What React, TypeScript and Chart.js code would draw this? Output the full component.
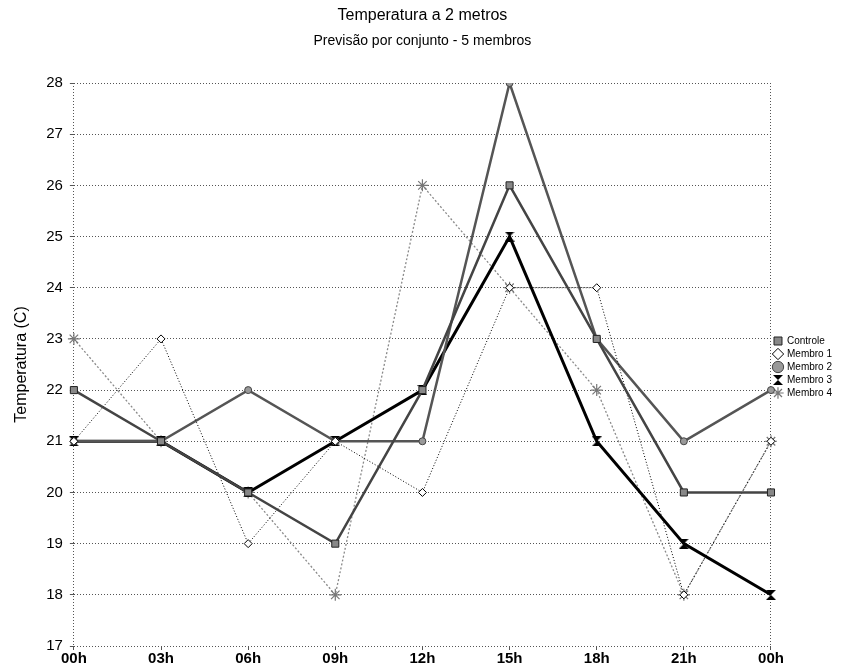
import { useEffect, useRef } from 'react';
import { Chart, registerables } from 'chart.js';

Chart.register(...registerables);

const labels = ['00h', '03h', '06h', '09h', '12h', '15h', '18h', '21h', '00h'];
const controle = [22, 21, 20, 19, 22, 26, 23, 20, 20];
const membro1 = [21, 23, 19, 21, 20, 24, 24, 18, 21];
const membro2 = [21, 21, 22, 21, 21, 28, 23, 21, 22];
const membro3 = [21, 21, 20, 21, 22, 25, 21, 19, 18];
const membro4 = [23, 21, 20, 18, 26, 24, 22, 18, 21];
const yTicks = { min: 17, max: 28, step: 1 };

const FONT = "'Liberation Sans', Arial, sans-serif";

function makeHourglass(): HTMLCanvasElement {
  const c = document.createElement('canvas');
  c.width = 10;
  c.height = 10;
  const g = c.getContext('2d')!;
  g.fillStyle = '#000';
  g.beginPath();
  g.moveTo(0, 0);
  g.lineTo(10, 0);
  g.lineTo(5, 5);
  g.closePath();
  g.fill();
  g.beginPath();
  g.moveTo(0, 10);
  g.lineTo(10, 10);
  g.lineTo(5, 5);
  g.closePath();
  g.fill();
  return c;
}

export default function App() {
  const ref = useRef<HTMLCanvasElement>(null);

  useEffect(() => {
    document.body.style.margin = '0';
    Chart.defaults.font.family = FONT;
    const hourglass = makeHourglass();
    const last = labels.length - 1;
    const chart = new Chart(ref.current!, {
      type: 'line',
      data: {
        labels,
        datasets: [
          {
            label: 'Controle',
            data: controle,
            borderColor: '#444',
            borderWidth: 2.5,
            pointStyle: 'rect',
            pointRadius: 5,
            pointBackgroundColor: '#888',
            pointBorderColor: '#222',
            pointBorderWidth: 1,
            tension: 0,
          },
          {
            label: 'Membro 1',
            data: membro1,
            borderColor: '#000',
            borderWidth: 1,
            borderDash: [1, 2],
            pointStyle: 'rectRot',
            pointRadius: 4,
            pointBackgroundColor: '#fff',
            pointBorderColor: '#000',
            pointBorderWidth: 1,
            tension: 0,
          },
          {
            label: 'Membro 2',
            data: membro2,
            borderColor: '#555',
            borderWidth: 2.5,
            pointStyle: 'circle',
            pointRadius: 3.5,
            pointBackgroundColor: '#999',
            pointBorderColor: '#444',
            pointBorderWidth: 1,
            tension: 0,
          },
          {
            label: 'Membro 3',
            data: membro3,
            borderColor: '#000',
            borderWidth: 3,
            pointStyle: hourglass as any,
            pointRadius: 5,
            pointBackgroundColor: '#000',
            pointBorderColor: '#000',
            tension: 0,
          },
          {
            label: 'Membro 4',
            data: membro4,
            borderColor: '#8a8a8a',
            borderWidth: 1.3,
            borderDash: [2, 2],
            pointStyle: 'star',
            pointRadius: 6,
            pointBackgroundColor: '#fff',
            pointBorderColor: '#777',
            pointBorderWidth: 1.2,
            tension: 0,
          },
        ],
      },
      options: {
        animation: false,
        responsive: false,
        layout: { padding: { left: 12, right: 25, top: 0, bottom: 0 } },
        plugins: {
          title: {
            display: true,
            text: 'Temperatura a 2 metros',
            color: '#000',
            font: { size: 16, weight: 'normal', family: FONT },
            padding: { top: 6, bottom: 8 },
            fullSize: false,
          },
          subtitle: {
            display: true,
            text: 'Previsão por conjunto - 5 membros',
            color: '#000',
            font: { size: 14, weight: 'normal', family: FONT },
            padding: { top: 0, bottom: 33 },
            fullSize: false,
          },
          legend: {
            position: 'right',
            align: 'center',
            title: {
              display: true,
              text: ' ',
              font: { size: 10, family: FONT },
              padding: { top: 54, bottom: 0 },
            },
            labels: {
              usePointStyle: true,
              boxWidth: 8,
              boxHeight: 8,
              color: '#000',
              font: { size: 10, family: FONT },
              padding: 3,
            },
          },
          tooltip: { enabled: false },
        },
        scales: {
          x: {
            type: 'category',
            offset: false,
            grid: {
              color: (ctx: any) => (ctx.index === 0 || ctx.index === last ? '#555' : 'rgba(0,0,0,0)'),
              tickColor: '#555',
              tickLength: 4,
              lineWidth: 1,
            },
            border: { display: false, dash: [1, 2] },
            ticks: {
              color: '#000',
              font: { size: 15, weight: 'bold', family: FONT },
              autoSkip: false,
              maxRotation: 0,
              padding: 0,
            },
          },
          y: {
            min: yTicks.min,
            max: yTicks.max,
            ticks: {
              stepSize: yTicks.step,
              color: '#000',
              font: { size: 15, family: FONT },
              padding: 7,
            },
            grid: { color: '#555', tickColor: '#555', tickLength: 4, lineWidth: 1 },
            border: { display: false, dash: [1, 2] },
            title: {
              display: true,
              text: 'Temperatura (C)',
              color: '#000',
              font: { size: 16, family: FONT },
              padding: { top: 0, bottom: 8 },
            },
          },
        },
      },
    });
    return () => chart.destroy();
  }, []);

  return (
    <div style={{ width: 867, height: 668 }}>
      <canvas ref={ref} width={867} height={668} />
    </div>
  );
}
